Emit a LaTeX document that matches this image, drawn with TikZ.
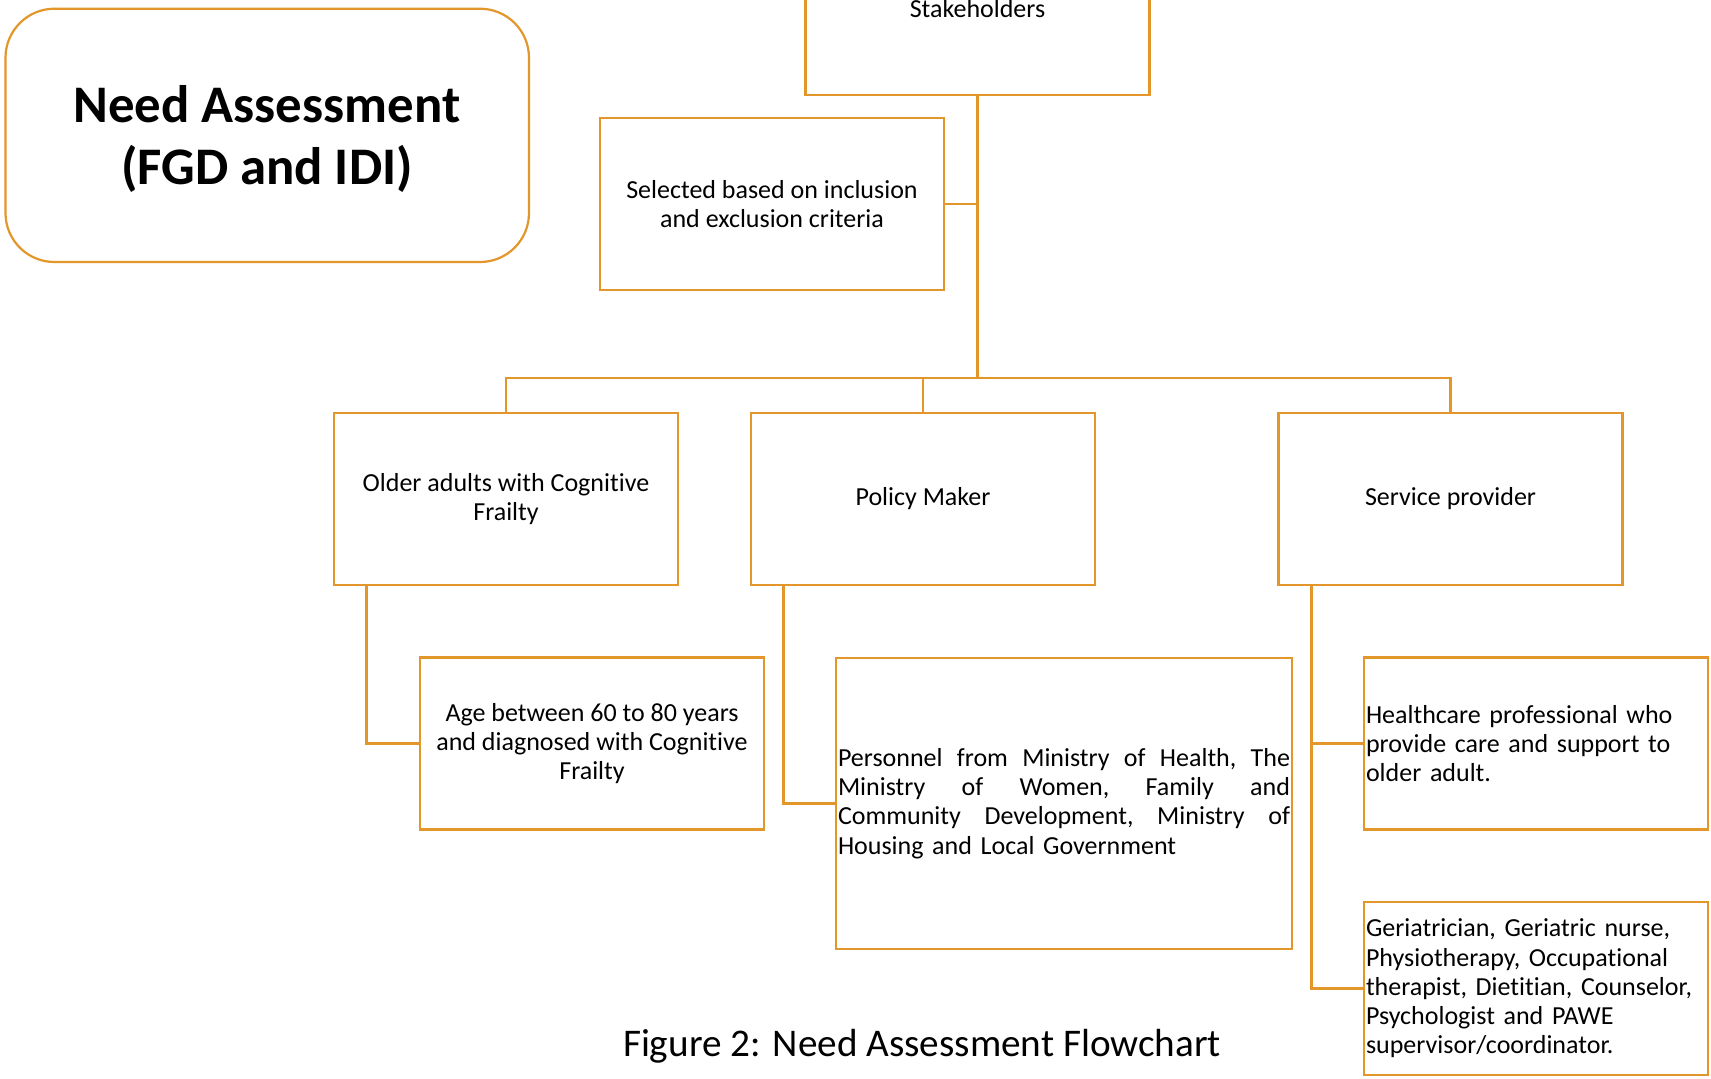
\documentclass[tikz,border=0pt]{standalone}
\usepackage{fontspec}
\setmainfont[Ligatures=NoCommon]{Carlito}
\usetikzlibrary{calc}
\definecolor{boxorange}{RGB}{227,150,42}
\begin{document}
\begin{tikzpicture}[x=0.5pt,y=-0.5pt,
  box/.style={draw=boxorange,line width=1.3pt,rectangle,inner sep=1pt,
    font=\fontsize{13}{14.6}\selectfont,align=center,
    minimum width=172pt,minimum height=86pt},
  conn/.style={draw=boxorange,line width=1.3pt},
  titlebox/.style={draw=boxorange,line width=1.1pt,rounded corners=24.5pt,
    minimum width=261.75pt,minimum height=126.5pt,align=center,
    font=\fontsize{26.4}{31.3}\selectfont\bfseries},
  caption/.style={font=\fontsize{19.6}{23}\selectfont}]
\useasboundingbox (0,0) rectangle (1711,1078);
\clip (0,0) rectangle (1711,1078);
\fill[white] (0,0) rectangle (1711,1078);

\draw[draw=boxorange,line width=1.1pt,rounded corners=24.5pt] (5.5,8.7) rectangle (529,262);
\node[align=center,font=\fontsize{26.4}{31.3}\selectfont\bfseries] (title) at (267,139) {Need Assessment\\(FGD and IDI)};

\node[box] (stake) at (977.5,9) {Stakeholders};
\node[box] (selected) at (772,204) {Selected based on inclusion\\and exclusion criteria};

\node[box] (older) at (506,499) {Older adults with Cognitive\\Frailty};
\node[box] (policy) at (923,499) {Policy Maker};
\node[box] (service) at (1450.5,499) {Service provider};

\node[box] (age) at (592,743.5) {Age between 60 to 80 years\\and diagnosed with Cognitive\\Frailty};
\node[box,minimum width=228pt,minimum height=145.5pt,text width=226pt,align=left] (personnel) at (1064,803.5)
  {\makebox[226pt][l]{Personnel\hfill from\hfill Ministry\hfill of\hfill Health,\hfill The}\\
   \makebox[226pt][l]{Ministry\hfill of\hfill Women,\hfill Family\hfill and}\\
   \makebox[226pt][l]{Community\hfill Development,\hfill Ministry\hfill of}\\
   Housing and Local Government};
\node[box,text width=170pt,align=left] (health) at (1536,743.5)
  {Healthcare professional who\\provide care and support to\\older adult.};
\node[box,text width=170pt,align=left,minimum height=86.5pt] (geri) at (1536,988.5)
  {Geriatrician, Geriatric nurse,\\Physiotherapy, Occupational\\therapist, Dietitian, Counselor,\\Psychologist and PAWE\\supervisor/coordinator.};

\node[caption] (cap) at (922,1046) {Figure 2: Need Assessment Flowchart};

\coordinate (bus) at (stake.south |- 0,378);
\draw[conn] (stake.south) -- (bus);
\draw[conn] (selected.east) -- (selected.east -| stake.south);
\draw[conn] (older.north) |- (bus) -| (service.north);
\draw[conn] (policy.north) -- (policy.north |- bus);

\coordinate (od) at ($(older.south west)+(34,0)$);
\coordinate (pd) at ($(policy.south west)+(34,0)$);
\coordinate (sd) at ($(service.south west)+(34,0)$);
\draw[conn] (od) |- (age.west);
\draw[conn] (pd) |- (personnel.west);
\draw[conn] (sd) |- (geri.west);
\draw[conn] (sd |- health.west) -- (health.west);
\end{tikzpicture}
\end{document}
